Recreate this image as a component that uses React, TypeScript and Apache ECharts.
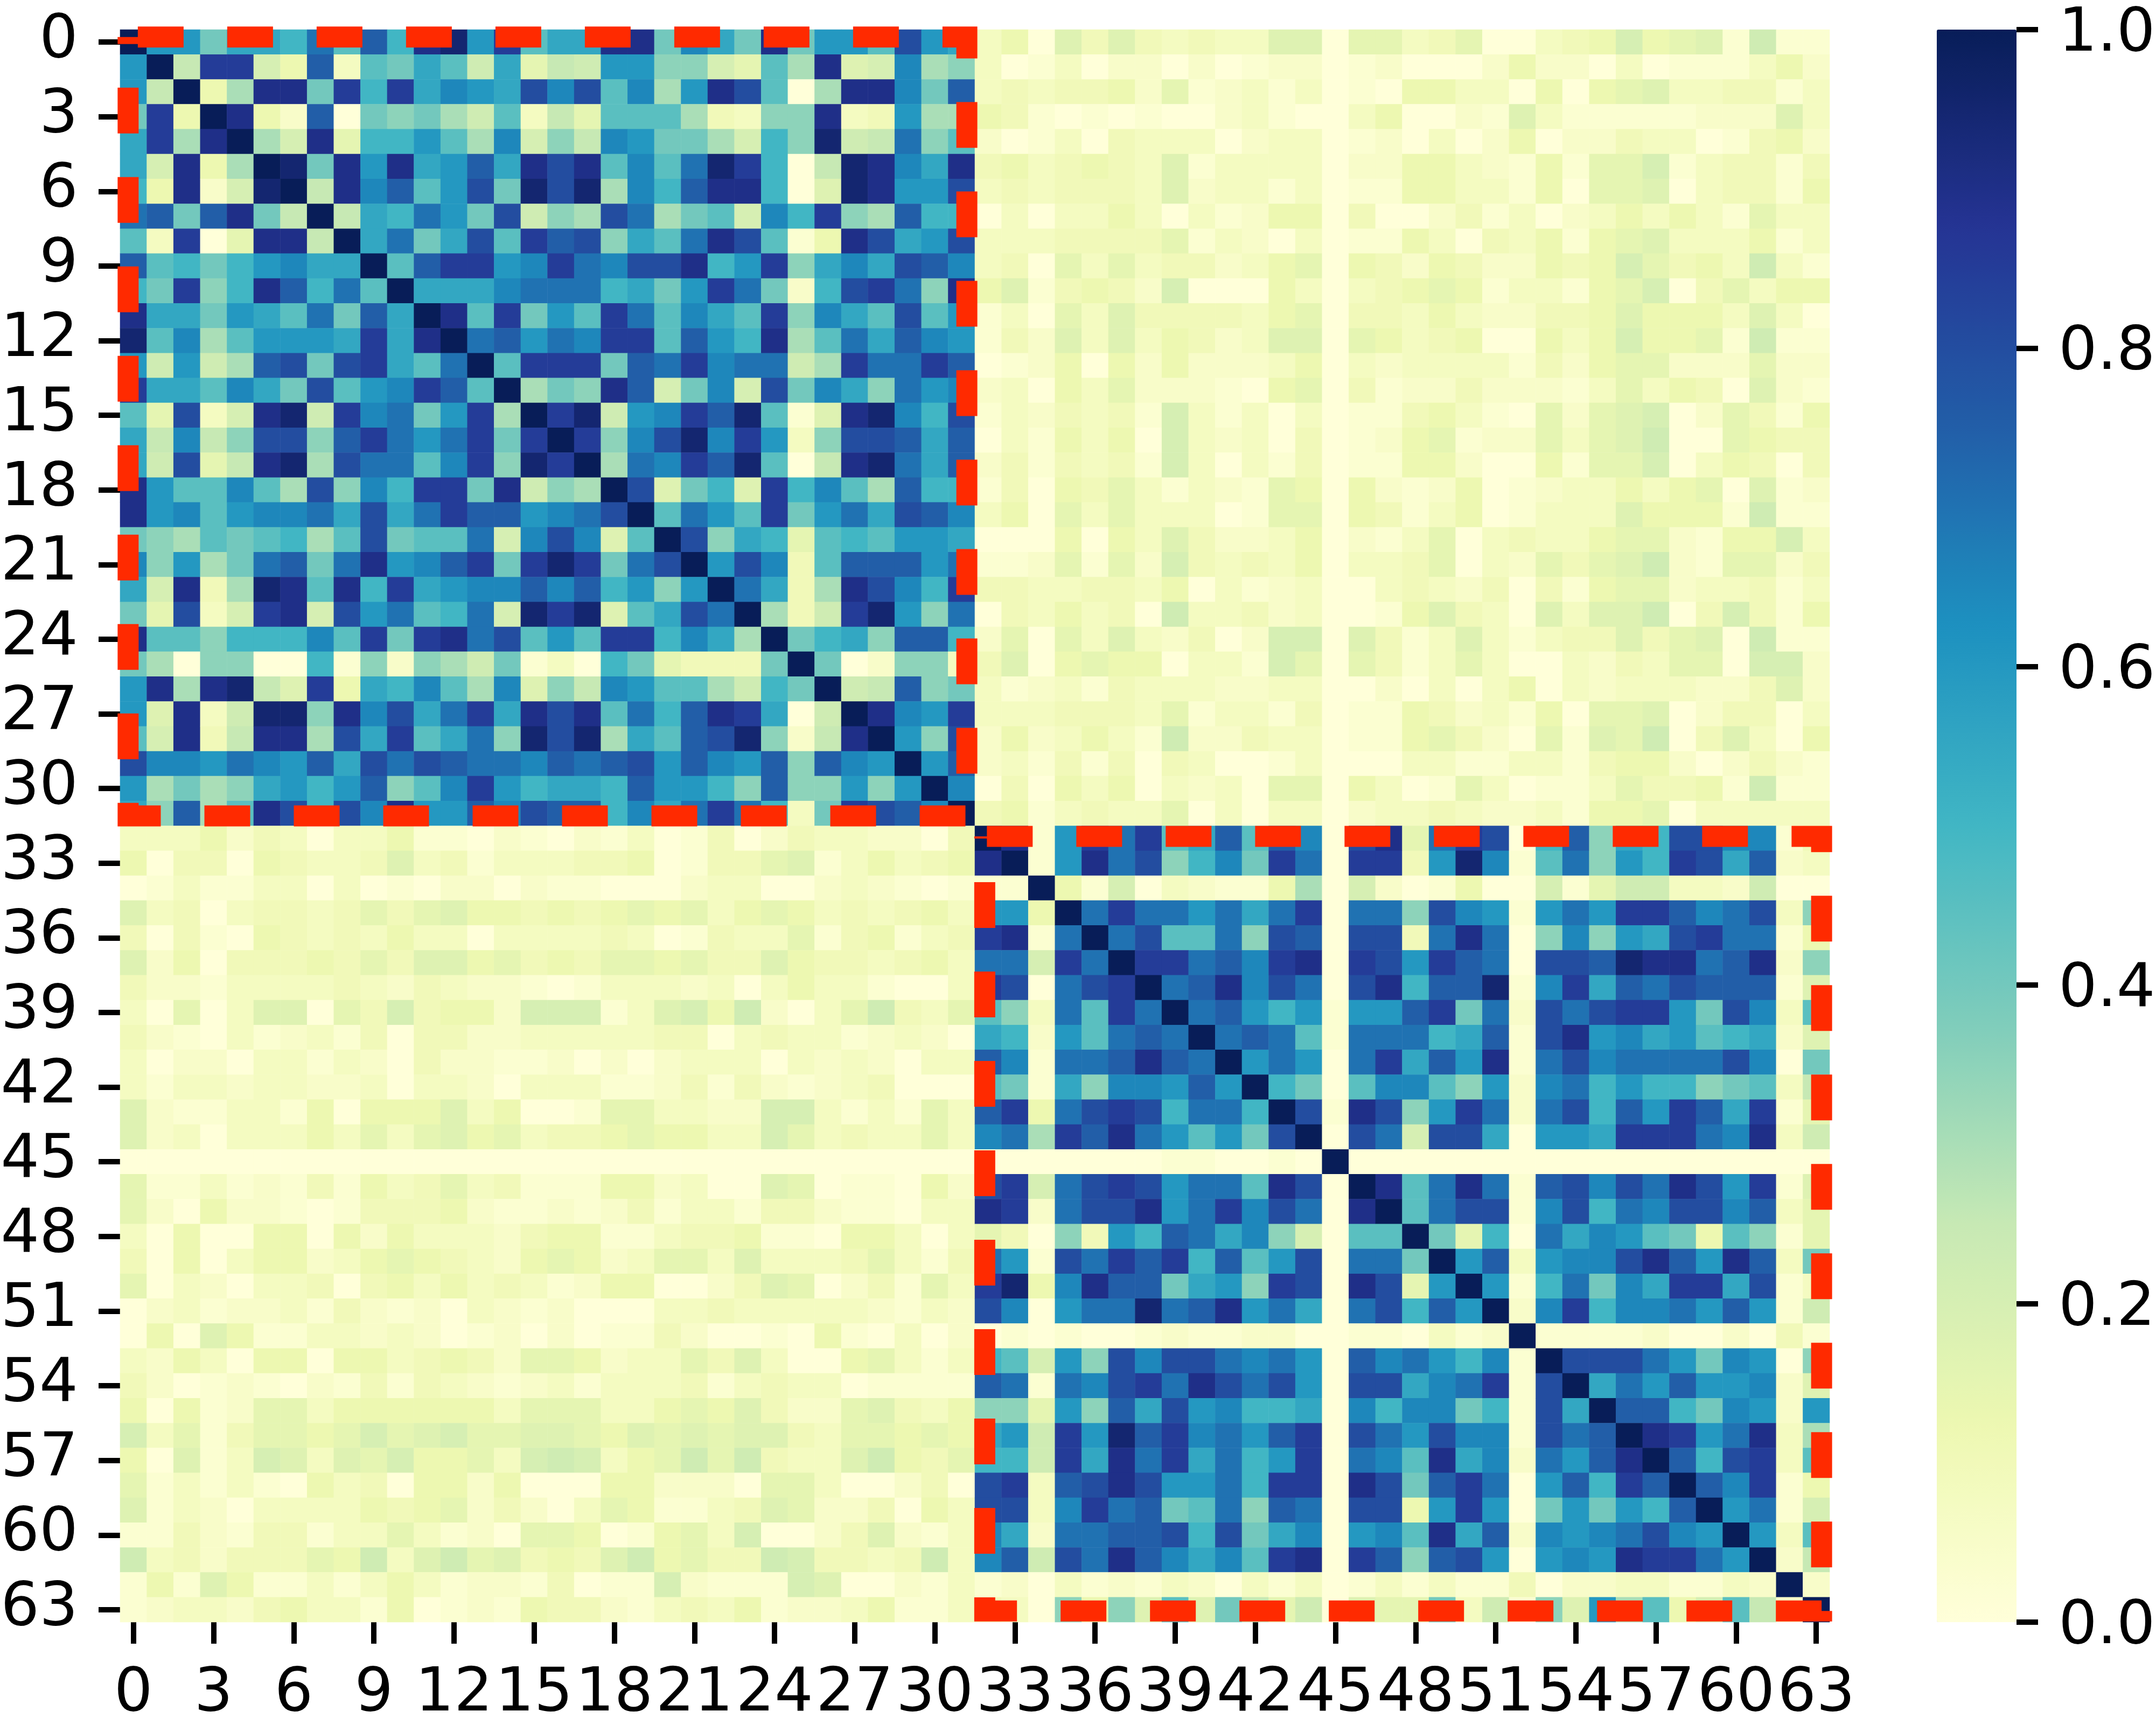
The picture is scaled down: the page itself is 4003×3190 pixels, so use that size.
import React, { useEffect, useRef } from "react";
import * as echarts from "echarts";

// Cell levels: digit d = d * 0.025; letters a..p = 0.25 + i * 0.05 (p = 1.0)
const blockA = [
  "phhdggfjekfnohmeggnndigdndhhelhg",
  "pamm85k3edge9g6a9hhcc86ebn78ibc",
  "p5bnndmfmgihglileibhnle0bnnidk",
  "pn52k0dcdb9e3a6eeeb43ccn34hbb",
  "pb8n6ffhebi8caihddb8fco9ajce",
  "podnhnghkgnlneiejomf0aonign",
  "panikehldolobifknnf07onhhl",
  "pagfjhdl9cbljbde8ifmcbkff",
  "pgjdglemklcgejnle15nlghl",
  "pekmmhimjillnfhmcgiglki",
  "pgggijjjfgdhmjd2flmjcn",
  "pnemdhemjeigemcigeleh",
  "pjkhjimmekhfnbejgkih",
  "pemmmdkjmijj9bmjjmk",
  "pbdcnk8di8ldigcjhi",
  "pmo9himkoe17noifl",
  "pmciloimh3cllkgk",
  "pbjimkoe0anojgk",
  "pl7df7mfiebkff",
  "pejhemdhjglki",
  "plcgf6efehhg",
  "phli4ekkkhj",
  "pjg4bnlifm",
  "pb49mohcj",
  "pdfgckkf",
  "pd02cc3",
  "p9akcd",
  "pnihm",
  "phcl",
  "phk",
  "pi",
  "p",
];

const crossRows = [
  "35074743433770663460034585671911",
  "30130220201220120002522030111352",
  "34344526123130105533050567334413",
  "54101010023100350021731111122273",
  "20130433302330120302502243301452",
  "45345437133330225532151668134414",
  "34344437233130115533150667034415",
  "03033530312550400241302353531633",
  "33344446132030115304351567333513",
  "34063634423560542542254586453931",
  "57145428000530345651331568046355",
  "13063744443560443532244575553730",
  "14273735423770653450053585561911",
  "01250525222350323333142566222622",
  "23053622210560412242221363540721",
  "13243418313030114531062678026415",
  "03153508323040125612263679006544",
  "24143418303140115520051668035404",
  "14054631321650521250123353560712",
  "35063633301660541350133375551911",
  "00050537422350213603433566215583",
  "11261628434350334603264679216624",
  "44334435031230034324041566233413",
  "04353409334230015743073779048415",
  "26063732402880741373134474670911",
  "47056550331860641363003243660882",
  "31231433322330020303503233322472",
  "33344436133140115423150667024403",
  "25235319224330115642061769047305",
  "23141404300130003311331455202421",
  "04053503230660530163011364451911",
  "45134336030330233432231556033333",
];

const blockB = [
  "pn1hmjmegkeki0ln6jml0fkcgfllii14",
  "p1hnjlcfidmj0mm4hoi1ejchfmlgk23",
  "p518032115b0820150081699332900",
  "pjmjjhjgjm0jjclih1hjhmmkijl3c",
  "pjleejclk0ll4jnj0cichglmjj15",
  "pmmjkimn0mlhmkj0llkonnjkn2c",
  "pjknilj0lnfkko1imgkjlkkk17",
  "pjkhfh1hhkmdj2ljlmmhdli3e",
  "pjkje1jjjfgk1lnhighefg27",
  "phjh0jmgkhn1jlijjjjli0d",
  "pfd0eiiech2ijfhffcde3a",
  "pl1nlchmj2jlfkhmkgm16",
  "p0lj8llg0hhgmmmjin39",
  "p000000000000000000",
  "pnejnj1kliljnlhm17",
  "pejll1ilfjillik36",
  "pd6f0jgihed5ec16",
  "phk3hiilnkhnk3d",
  "ph1fjdigmmgl13",
  "p2imfiijhkh19",
  "p11112002041",
  "plll" + "jhdih0c",
  "pgjhkhhi27",
  "pkkfdih2h",
  "pnmhjn3b",
  "pkflm3e",
  "pkim15",
  "phj18",
  "ph3e",
  "p2a",
  "p2",
  "p",
];

const tickLabels = Array.from({ length: 64 }, (_, i) => String(i));
const colorStops = ["#ffffd9", "#edf8b1", "#c7e9b4", "#7fcdbb", "#41b6c4", "#1d91c0", "#225ea8", "#253494", "#081d58"];
// Annotation rectangles in cell units: [left, top, right, bottom]
const boxes = [
  { cells: [0.3, 0.3, 31.7, 31.6], dashStart: 17.6 },
  { cells: [32.37, 32.42, 63.7, 63.55], dashStart: 4 },
];

const W = 4003;
const H = 3190;
const GRID = { left: 223, top: 55, width: 3174, height: 2957 };
const BAR = { left: 3596, top: 55, width: 148, height: 2957 };
const FONT = "DejaVu Sans";
const FS = 113;

const level = (c: string) => {
  const code = c.charCodeAt(0);
  if (code >= 48 && code <= 57) return (code - 48) * 0.025;
  return Math.min(1, 0.25 + (code - 97) * 0.05);
};

function buildCells() {
  const out: number[][] = [];
  const upper = [
    ...blockA.map((s, i) => s + crossRows[i]),
    ...blockB,
  ];
  upper.forEach((s, r) => {
    for (let k = 0; k < 64 - r; k++) {
      const c = r + k;
      const v = level(s[k] ?? "0");
      out.push([c, r, v]);
      if (c !== r) out.push([r, c, v]);
    }
  });
  return out;
}

export default function App() {
  const ref = useRef<HTMLDivElement>(null);
  useEffect(() => {
    document.body.style.margin = "0";
    const chart = echarts.init(ref.current!, undefined, { renderer: "svg", width: W, height: H });
    const cw = GRID.width / 64;
    const ch = GRID.height / 64;
    const tick = { show: true, alignWithLabel: true, interval: 2, length: 40, lineStyle: { color: "#000", width: 10 } };
    chart.setOption({
      animation: false,
      backgroundColor: "#ffffff",
      grid: [
        { ...GRID, containLabel: false, outerBoundsMode: "none" },
        { ...BAR, containLabel: false, outerBoundsMode: "none" },
      ],
      xAxis: [
        {
          type: "category",
          gridIndex: 0,
          data: tickLabels,
          position: "bottom",
          splitLine: { show: false },
          splitArea: { show: false },
          axisLine: { show: false },
          axisTick: tick,
          axisLabel: { interval: 2, margin: 68, color: "#000", fontSize: FS, fontFamily: FONT, hideOverlap: false },
        },
        { type: "value", gridIndex: 1, min: 0, max: 1, show: false },
      ],
      yAxis: [
        {
          type: "category",
          gridIndex: 0,
          data: tickLabels,
          inverse: true,
          position: "left",
          splitLine: { show: false },
          splitArea: { show: false },
          axisLine: { show: false },
          axisTick: tick,
          axisLabel: {
            interval: 2,
            margin: 78,
            color: "#000",
            fontSize: FS,
            fontFamily: FONT,
            hideOverlap: false,
            verticalAlign: "bottom",
            lineHeight: 22,
          },
        },
        {
          type: "value",
          gridIndex: 1,
          min: 0,
          max: 1,
          interval: 0.2,
          position: "right",
          splitLine: { show: false },
          axisLine: { show: false, onZero: false },
          axisTick: { show: true, length: 40, lineStyle: { color: "#000", width: 10 } },
          axisLabel: {
            margin: 78,
            color: "#000",
            fontSize: FS,
            fontFamily: FONT,
            showMinLabel: true,
            showMaxLabel: true,
            formatter: (v: number) => v.toFixed(1),
          },
        },
      ],
      visualMap: {
        type: "continuous",
        seriesIndex: 0,
        dimension: 2,
        min: 0,
        max: 1,
        show: true,
        calculable: false,
        hoverLink: false,
        realtime: false,
        orient: "vertical",
        left: BAR.left,
        top: BAR.top,
        itemWidth: BAR.width,
        itemHeight: BAR.height,
        padding: 0,
        showLabel: false,
        inRange: { color: colorStops },
      },
      series: [
        {
          type: "heatmap",
          xAxisIndex: 0,
          yAxisIndex: 0,
          data: buildCells(),
          silent: true,
          progressive: 0,
          itemStyle: { borderWidth: 0 },
          emphasis: { disabled: true },
        },
      ],
      graphic: boxes.map((b) => {
        const [l, t, r, bt] = b.cells;
        return {
          type: "rect",
          silent: true,
          z: 100,
          shape: {
            x: GRID.left + l * cw,
            y: GRID.top + t * ch,
            width: (r - l) * cw,
            height: (bt - t) * ch,
          },
          style: {
            fill: "none",
            stroke: "#ff2a00",
            lineWidth: 39,
            lineDash: [85, 81],
            lineDashOffset: -b.dashStart,
          },
        };
      }),
    });
    return () => chart.dispose();
  }, []);
  return <div ref={ref} style={{ position: "absolute", left: 0, top: 0, width: W, height: H, background: "#fff" }} />;
}
